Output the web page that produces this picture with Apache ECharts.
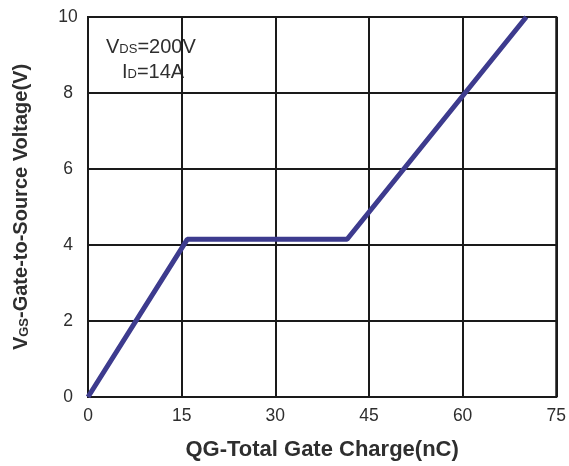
<!DOCTYPE html>
<html><head><meta charset="utf-8">
<script src="https://cdn.jsdelivr.net/npm/echarts@6/dist/echarts.min.js"></script>
<style>html,body{margin:0;padding:0;background:#fff}#c{width:569px;height:466px}</style>
</head><body><div id="c"></div>
<script>
const charge = [0, 15.9, 41.5, 70.2];
const vgs = [0, 4.15, 4.15, 10];
const xTicks = [0, 15, 30, 45, 60, 75];
const yTicks = [0, 2, 4, 6, 8, 10];

const chart = echarts.init(document.getElementById('c'));
const F = '"Liberation Sans", Arial, sans-serif';
const TXT = '#2e2e2e';
chart.setOption({
  animation: false,
  grid: {left: 88, right: 10, top: 17, bottom: 69, show: true, borderColor: '#1a1a1a', borderWidth: 2},
  xAxis: {
    type: 'value', min: xTicks[0], max: xTicks[xTicks.length-1], interval: 15,
    axisLine: {show: true, lineStyle: {color: '#1a1a1a', width: 2}},
    axisTick: {show: false},
    splitLine: {show: true, lineStyle: {color: '#1a1a1a', width: 2}},
    axisLabel: {color: TXT, fontSize: 17.5, fontFamily: F, margin: 10, showMaxLabel: true},
    name: 'QG-Total Gate Charge(nC)', nameLocation: 'middle', nameGap: 42,
    nameTextStyle: {color: TXT, fontSize: 22, fontWeight: 'bold', fontFamily: F}
  },
  yAxis: {
    type: 'value', min: yTicks[0], max: yTicks[yTicks.length-1], interval: 2,
    axisLine: {show: true, lineStyle: {color: '#1a1a1a', width: 2}},
    axisTick: {show: false},
    splitLine: {show: true, lineStyle: {color: '#1a1a1a', width: 2}},
    axisLabel: {color: TXT, fontSize: 17.5, fontFamily: F, margin: 20, align: 'center'},
    name: '{a|V}{s|GS}{a|-Gate-to-Source Voltage(V)}', nameLocation: 'middle', nameGap: 57,
    nameTextStyle: {
      color: TXT, fontSize: 20, fontWeight: 'bold', fontFamily: F,
      rich: {
        a: {fontSize: 20, fontWeight: 'bold', fontFamily: F, color: TXT},
        s: {fontSize: 13, fontWeight: 'bold', fontFamily: F, color: TXT, verticalAlign: 'bottom', padding: [5,0,0,0]}
      }
    }
  },
  series: [{
    type: 'line', data: charge.map((x, i) => [x, vgs[i]]),
    showSymbol: false, clip: true,
    lineStyle: {color: '#3d3b8e', width: 5}
  }],
  graphic: [
    {type: 'text', x: 106, y: 47, style: {
      text: '{a|V}{s|DS}{a|=200V}', verticalAlign: 'middle',
      rich: {a: {fontSize: 20, fontFamily: F, fill: TXT}, s: {fontSize: 13, fontFamily: F, fill: TXT, padding: [5,0,0,0]}}
    }},
    {type: 'text', x: 122, y: 72, style: {
      text: '{a|I}{s|D}{a|=14A}', verticalAlign: 'middle',
      rich: {a: {fontSize: 20, fontFamily: F, fill: TXT}, s: {fontSize: 13, fontFamily: F, fill: TXT, padding: [5,0,0,0]}}
    }}
  ]
});
</script></body></html>
